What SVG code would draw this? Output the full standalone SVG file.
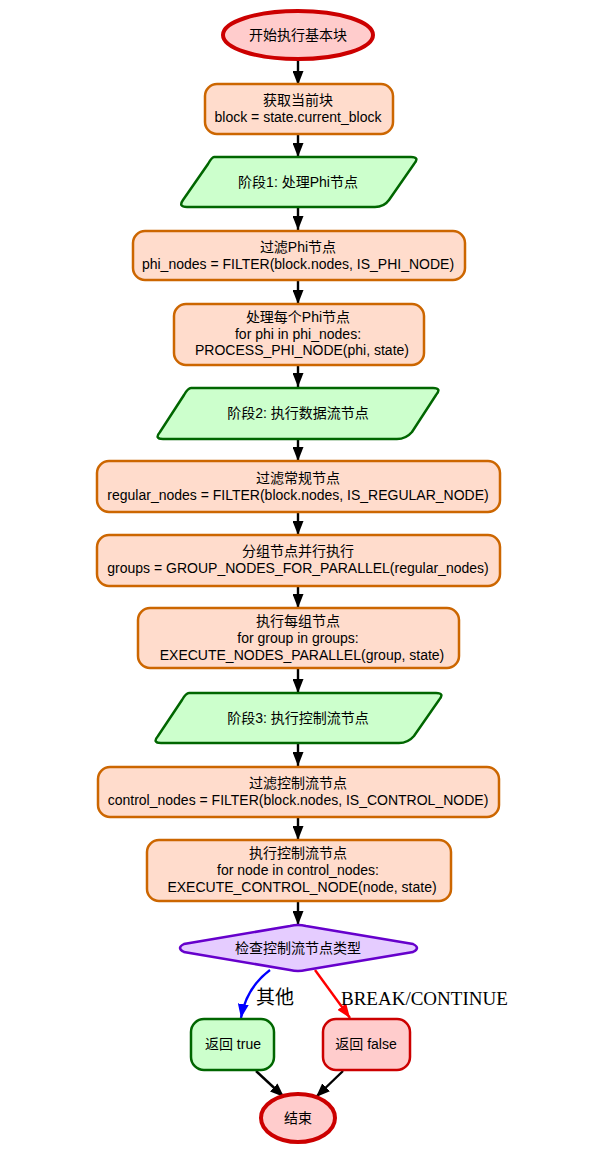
<svg xmlns="http://www.w3.org/2000/svg" width="599" height="1157" viewBox="0 0 599 1157">
<defs>
<marker id="ah" viewBox="0 0 14 11" refX="14" refY="5.5" markerWidth="14" markerHeight="11" orient="auto" markerUnits="userSpaceOnUse"><path d="M0,0 L14,5.5 L0,11 z" fill="#000"/></marker>
<marker id="ahb" viewBox="0 0 14 11" refX="14" refY="5.5" markerWidth="14" markerHeight="11" orient="auto" markerUnits="userSpaceOnUse"><path d="M0,0 L14,5.5 L0,11 z" fill="#0000ff"/></marker>
<marker id="ahr" viewBox="0 0 14 11" refX="14" refY="5.5" markerWidth="14" markerHeight="11" orient="auto" markerUnits="userSpaceOnUse"><path d="M0,0 L14,5.5 L0,11 z" fill="#ff0000"/></marker>
</defs>
<style>
text{font-family:"Liberation Sans","Noto Sans CJK SC",Arial,sans-serif;font-size:14px;fill:#000;text-anchor:middle;dominant-baseline:central}
.lbl{font-family:"Liberation Serif","Noto Sans CJK SC",serif;font-size:19px;text-anchor:start}
.proc{fill:#ffdccc;stroke:#cc6600;stroke-width:2.5}
.phase{fill:#ccffcc;stroke:#006600;stroke-width:2.5}
.term{fill:#ffcccc;stroke:#cc0000;stroke-width:4}
.ok{fill:#ccffcc;stroke:#006600;stroke-width:2.5}
.bad{fill:#ffcccc;stroke:#cc0000;stroke-width:2.5}
.dec{fill:#e5ccff;stroke:#6600cc;stroke-width:2.5}
.e{stroke:#000;stroke-width:2.4;fill:none;marker-end:url(#ah)}
</style>
<g id="connectors">
<path class="e" d="M298,60 V85"/>
<path class="e" d="M298,135 V157"/>
<path class="e" d="M298,207 V230"/>
<path class="e" d="M298,280 V304"/>
<path class="e" d="M298,365 V387"/>
<path class="e" d="M298,439 V461"/>
<path class="e" d="M298,512 V535"/>
<path class="e" d="M298,586 V608"/>
<path class="e" d="M298,668 V693"/>
<path class="e" d="M298,743 V766"/>
<path class="e" d="M298,817 V840"/>
<path class="e" d="M298,902 V925"/>
<path d="M270,970 Q246,988 241,1018" stroke="#0000ff" stroke-width="2.4" fill="none" marker-end="url(#ahb)"/>
<path d="M315,970 L350,1018" stroke="#ff0000" stroke-width="2.4" fill="none" marker-end="url(#ahr)"/>
<path class="e" d="M256,1071 L284,1097"/>
<path class="e" d="M343,1071 L316,1097"/>
<text class="lbl" x="256" y="997">其他</text>
<text class="lbl" x="341" y="998">BREAK/CONTINUE</text>
</g>
<g id="start"><ellipse class="term" cx="298" cy="35" rx="75" ry="24"/><text x="298" y="35">开始执行基本块</text></g>
<g id="getblock"><rect class="proc" x="205" y="84" width="188" height="50" rx="12"/><text x="298" y="100">获取当前块</text><text x="298" y="117">block = state.current_block</text></g>
<g id="phase1"><path class="phase" d="M214,157 H411 Q420,157 414,164 L389,200 Q384,207 375,207 H187 Q178,207 183,200 L208,164 Q212,157 214,157 Z"/><text x="298" y="182">阶段1: 处理Phi节点</text></g>
<g id="filterphi"><rect class="proc" x="133" y="231" width="332" height="49" rx="12"/><text x="298" y="247">过滤Phi节点</text><text x="298" y="264">phi_nodes = FILTER(block.nodes, IS_PHI_NODE)</text></g>
<g id="processphi"><rect class="proc" x="174" y="304" width="250" height="61" rx="12"/><text x="298" y="317">处理每个Phi节点</text><text x="298" y="334">for phi in phi_nodes:</text><text x="302" y="350">PROCESS_PHI_NODE(phi, state)</text></g>
<g id="phase2"><path class="phase" d="M191,388 H433 Q442,388 436,395 L412,432 Q406,439 397,439 H163 Q154,439 160,432 L184,395 Q188,388 191,388 Z"/><text x="298" y="413">阶段2: 执行数据流节点</text></g>
<g id="filterreg"><rect class="proc" x="97" y="461" width="403" height="51" rx="12"/><text x="298" y="478">过滤常规节点</text><text x="298" y="495">regular_nodes = FILTER(block.nodes, IS_REGULAR_NODE)</text></g>
<g id="group"><rect class="proc" x="97" y="535" width="403" height="51" rx="12"/><text x="298" y="551">分组节点并行执行</text><text x="298" y="568">groups = GROUP_NODES_FOR_PARALLEL(regular_nodes)</text></g>
<g id="execgroup"><rect class="proc" x="138" y="608" width="321" height="60" rx="12"/><text x="298" y="621">执行每组节点</text><text x="298" y="638">for group in groups:</text><text x="302" y="655">EXECUTE_NODES_PARALLEL(group, state)</text></g>
<g id="phase3"><path class="phase" d="M189,693 H436 Q445,693 439,700 L414,736 Q408,743 399,743 H161 Q152,743 158,736 L182,700 Q186,693 189,693 Z"/><text x="298" y="718">阶段3: 执行控制流节点</text></g>
<g id="filterctl"><rect class="proc" x="98" y="767" width="401" height="50" rx="12"/><text x="298" y="783">过滤控制流节点</text><text x="298" y="800">control_nodes = FILTER(block.nodes, IS_CONTROL_NODE)</text></g>
<g id="execctl"><rect class="proc" x="147" y="840" width="304" height="61" rx="12"/><text x="298" y="853">执行控制流节点</text><text x="298" y="870">for node in control_nodes:</text><text x="302" y="887">EXECUTE_CONTROL_NODE(node, state)</text></g>
<g id="check"><path class="dec" d="M290,926 Q298,924 306,926 L413,944 Q421,948 413,952 L306,970 Q298,972 290,970 L184,952 Q176,948 184,944 Z"/><text x="298" y="948">检查控制流节点类型</text></g>
<g id="rettrue"><rect class="ok" x="191" y="1019" width="83" height="51" rx="13"/><text x="233" y="1044">返回 true</text></g>
<g id="retfalse"><rect class="bad" x="323" y="1019" width="87" height="51" rx="13"/><text x="366" y="1044">返回 false</text></g>
<g id="end"><ellipse class="term" cx="298" cy="1118" rx="37" ry="24"/><text x="298" y="1118">结束</text></g>
</svg>
